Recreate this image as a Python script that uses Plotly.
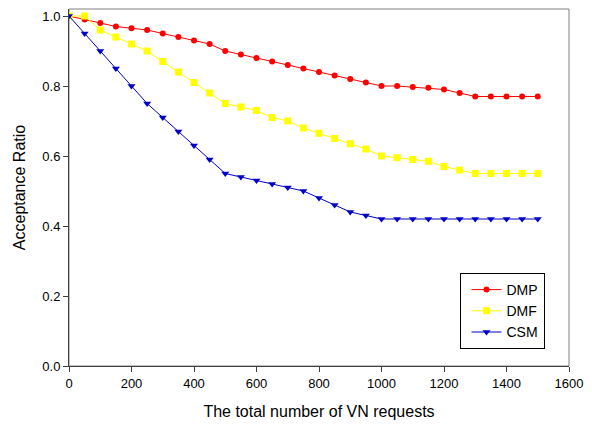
import plotly.graph_objects as go

x_requests = list(range(0, 1501, 50))
dmp = [1.0, 0.99, 0.98, 0.97, 0.965, 0.96, 0.95, 0.94, 0.93, 0.92, 0.90,
       0.89, 0.88, 0.87, 0.86, 0.85, 0.84, 0.83, 0.82, 0.81, 0.80,
       0.80, 0.797, 0.795, 0.79, 0.78, 0.77, 0.77, 0.77, 0.77, 0.77]
dmf = [1.0, 1.0, 0.96, 0.94, 0.92, 0.90, 0.87, 0.84, 0.81, 0.78, 0.75,
       0.74, 0.73, 0.71, 0.70, 0.68, 0.665, 0.65, 0.635, 0.62, 0.60,
       0.595, 0.59, 0.585, 0.57, 0.56, 0.55, 0.55, 0.55, 0.55, 0.55]
csm = [1.0, 0.95, 0.90, 0.85, 0.80, 0.75, 0.71, 0.67, 0.63, 0.59, 0.55,
       0.54, 0.53, 0.52, 0.51, 0.50, 0.48, 0.46, 0.44, 0.43, 0.42,
       0.42, 0.42, 0.42, 0.42, 0.42, 0.42, 0.42, 0.42, 0.42, 0.42]

series = [
    ("DMP", dmp, "#FF0000", "circle", 6),
    ("DMF", dmf, "#FFFF00", "square", 7),
    ("CSM", csm, "#0000C8", "triangle-down", 7),
]

fig = go.Figure()
for name, vals, color, sym, size in series:
    fig.add_trace(go.Scatter(
        x=x_requests, y=vals, name=name, mode="lines+markers",
        line=dict(color=color, width=1),
        marker=dict(symbol=sym, size=size, color=color, line=dict(width=0)),
    ))

font = "Liberation Sans, Arial, sans-serif"
fig.update_layout(
    width=592, height=430,
    margin=dict(l=69, r=16, t=9, b=64),
    plot_bgcolor="white", paper_bgcolor="white",
    font=dict(family=font, size=13, color="black"),
    showlegend=True,
    legend=dict(
        x=0.781, y=0.2605, xanchor="left", yanchor="top",
        bordercolor="black", borderwidth=1, bgcolor="white",
        font=dict(size=14), itemwidth=30, tracegroupgap=0,
        indentation=6, entrywidth=80, entrywidthmode="pixels",
    ),
    xaxis=dict(
        range=[0, 1600], dtick=200, tick0=0,
        showgrid=False, zeroline=False,
        showline=True, linecolor="#404040", linewidth=1,
        ticks="outside", ticklen=5, tickcolor="#404040",
        title=dict(text="The total number of VN requests", font=dict(size=16), standoff=16),
    ),
    yaxis=dict(
        range=[0, 1.02], dtick=0.2, tick0=0, tickformat=".1f",
        showgrid=False, zeroline=False,
        showline=True, linecolor="#404040", linewidth=1,
        ticks="outside", ticklen=5, tickcolor="#404040",
        title=dict(text="Acceptance Ratio", font=dict(size=16), standoff=12),
    ),
    shapes=[dict(type="rect", xref="paper", yref="paper", x0=0, x1=1, y0=0, y1=1,
                 line=dict(color="#808080", width=1), layer="below")],
)

fig.write_html("out.html")
